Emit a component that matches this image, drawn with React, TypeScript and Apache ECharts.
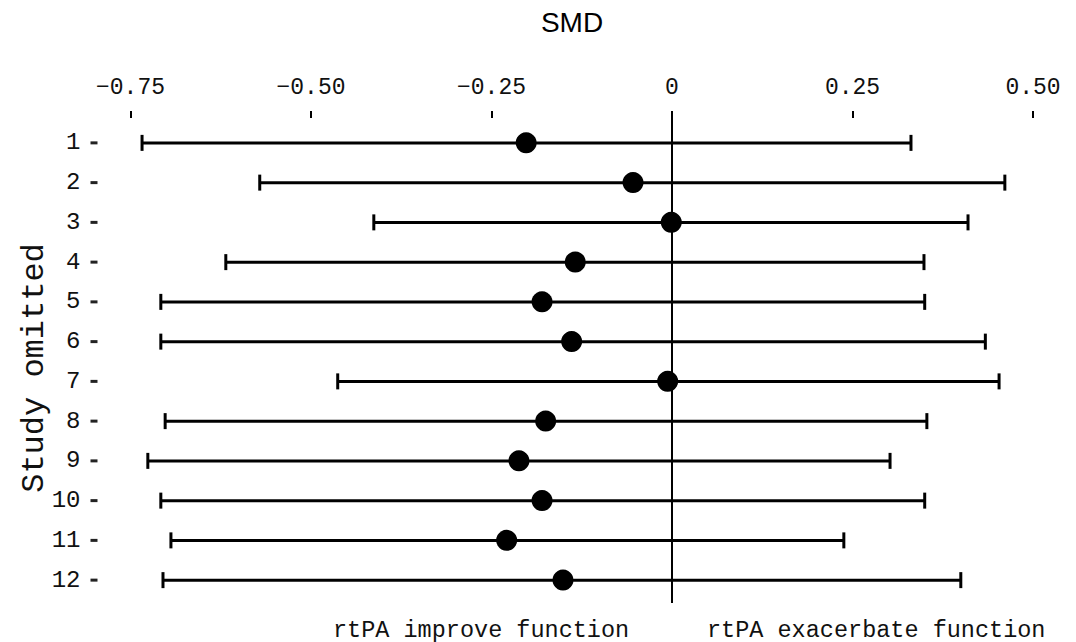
import React, { useEffect, useRef } from "react";
import * as echarts from "echarts";

// Leave-one-out sensitivity analysis: pooled SMD with 95% CI when each study is omitted
const studies = ["1", "2", "3", "4", "5", "6", "7", "8", "9", "10", "11", "12"];
const smd = [-0.202, -0.054, -0.001, -0.134, -0.180, -0.139, -0.006, -0.175, -0.212, -0.180, -0.229, -0.151];
const ciLower = [-0.734, -0.571, -0.413, -0.618, -0.708, -0.708, -0.463, -0.702, -0.726, -0.708, -0.694, -0.705];
const ciUpper = [0.331, 0.461, 0.410, 0.349, 0.350, 0.434, 0.453, 0.353, 0.302, 0.350, 0.238, 0.400];
const xTicks = { min: -0.75, max: 0.5, step: 0.25 };

const MONO = "'Liberation Mono', 'DejaVu Sans Mono', monospace";
const INK = "#000";

export default function App() {
  const ref = useRef<HTMLDivElement>(null);

  useEffect(() => {
    document.body.style.margin = "0";
    if (!ref.current) return;
    const chart = echarts.init(ref.current, undefined, { renderer: "svg" });

    const barData = studies.map((_s, i) => [ciLower[i], ciUpper[i], i]);
    const pointData = studies.map((_s, i) => [smd[i], i]);
    const tickData = studies.map((_s, i) => [0, i]);

    chart.setOption({
      animation: false,
      backgroundColor: "#fff",
      grid: { left: 130.5, right: 43, top: 123, bottom: 42 },
      xAxis: {
        type: "value",
        position: "top",
        offset: 12,
        min: xTicks.min,
        max: xTicks.max,
        interval: xTicks.step,
        axisLine: { show: false },
        axisTick: { show: true, inside: true, length: 7, lineStyle: { color: INK, width: 2 } },
        axisLabel: {
          margin: 12,
          fontFamily: MONO,
          fontSize: 23,
          color: "#111",
          formatter: (v: number) => (v === 0 ? "0" : v.toFixed(2).replace("-", "\u2212")),
        },
        splitLine: { show: false },
      },
      yAxis: {
        type: "category",
        data: studies,
        inverse: true,
        boundaryGap: true,
        offset: 40,
        axisLine: { show: false },
        axisTick: { show: false },
        axisLabel: {
          margin: 10,
          fontFamily: MONO,
          fontSize: 24,
          color: "#111",
        },
        splitLine: { show: false },
      },
      graphic: [
        {
          type: "text",
          x: 572,
          y: 22,
          style: {
            text: "SMD",
            font: "28px 'Liberation Sans', Arial, sans-serif",
            fill: "#000",
            align: "center",
            verticalAlign: "middle",
          },
        },
        {
          type: "text",
          x: 34,
          y: 368,
          rotation: Math.PI / 2,
          style: {
            text: "Study omitted",
            font: `32px ${MONO}`,
            fill: "#111",
            align: "center",
            verticalAlign: "middle",
          },
        },
        {
          type: "text",
          x: 333,
          y: 630,
          style: {
            text: "rtPA improve function",
            font: `23.5px ${MONO}`,
            fill: "#111",
            align: "left",
            verticalAlign: "middle",
          },
        },
        {
          type: "text",
          x: 707,
          y: 630,
          style: {
            text: "rtPA exacerbate function",
            font: `23.5px ${MONO}`,
            fill: "#111",
            align: "left",
            verticalAlign: "middle",
          },
        },
      ],
      series: [
        {
          // short dash marks beside each study label, left of the plot area
          type: "custom",
          data: tickData,
          clip: false,
          encode: { y: 1 },
          renderItem: (params: any, api: any) => {
            const cs = params.coordSys;
            const y = api.coord([0, api.value(1)])[1];
            return {
              type: "line",
              shape: { x1: cs.x - 40, y1: y, x2: cs.x - 33, y2: y },
              style: { stroke: "#222", lineWidth: 3 },
            };
          },
          z: 1,
        },
        {
          // vertical line of no effect at SMD = 0, running a little past the plot area
          type: "custom",
          data: [[0]],
          clip: false,
          encode: { x: 0 },
          renderItem: (params: any, api: any) => {
            const cs = params.coordSys;
            const x = api.coord([api.value(0), 0])[0];
            return {
              type: "line",
              shape: { x1: x, y1: cs.y - 12, x2: x, y2: cs.y + cs.height + 3 },
              style: { stroke: INK, lineWidth: 2 },
            };
          },
          z: 1,
        },
        {
          type: "custom",
          data: barData,
          encode: { x: [0, 1], y: 2 },
          renderItem: (_params: any, api: any) => {
            const y = api.value(2);
            const lo = api.coord([api.value(0), y]);
            const hi = api.coord([api.value(1), y]);
            const cap = 8;
            const style = { stroke: INK, lineWidth: 3 };
            return {
              type: "group",
              children: [
                { type: "line", shape: { x1: lo[0], y1: lo[1], x2: hi[0], y2: hi[1] }, style },
                { type: "line", shape: { x1: lo[0], y1: lo[1] - cap, x2: lo[0], y2: lo[1] + cap }, style },
                { type: "line", shape: { x1: hi[0], y1: hi[1] - cap, x2: hi[0], y2: hi[1] + cap }, style },
              ],
            };
          },
          z: 2,
        },
        {
          type: "scatter",
          data: pointData,
          symbol: "circle",
          symbolSize: 21,
          itemStyle: { color: INK, opacity: 1 },
          z: 3,
        },
      ],
    });

    return () => chart.dispose();
  }, []);

  return <div ref={ref} style={{ width: 1076, height: 642 }} />;
}
